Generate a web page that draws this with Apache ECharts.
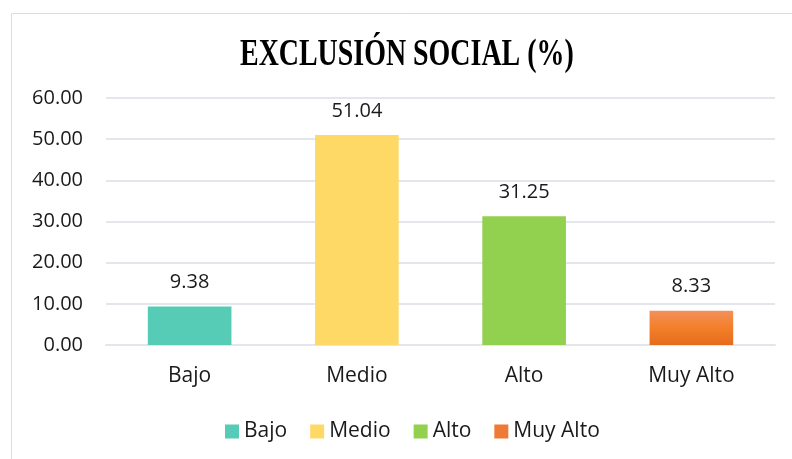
<!DOCTYPE html>
<html>
<head>
<meta charset="utf-8">
<script src="https://cdn.jsdelivr.net/npm/echarts@6/dist/echarts.min.js"></script>
<style>
  html, body { margin: 0; padding: 0; background: #fff; }
  #chart { width: 792px; height: 459px; }
</style>
</head>
<body>
<div id="chart"></div>
<script>
// datos
const titleText = 'EXCLUSIÓN SOCIAL (%)'
const categories = ['Bajo', 'Medio', 'Alto', 'Muy Alto']
const values = [9.38, 51.04, 31.25, 8.33]
const colors = [
  '#56CBB5',
  '#FFD966',
  '#92D050',
  new echarts.graphic.LinearGradient(0, 0, 0, 1, [
    { offset: 0, color: '#F3905A' },
    { offset: 0.5, color: '#F47F2A' },
    { offset: 1, color: '#E56B1C' }
  ])
]
const legendColors = ['#56CBB5', '#FFD966', '#92D050', '#EE7A33']

const chart = echarts.init(document.getElementById('chart'))

// una serie por categoría para que la leyenda muestre los cuatro colores
const series_data = categories.map((name, i) => ({
  name: name,
  type: 'bar',
  stack: 'total',
  barWidth: '50%',
  itemStyle: { color: colors[i] },
  label: {
    show: true,
    position: 'top',
    distance: 14,
    color: '#1a1a1a',
    fontFamily: 'Open Sans',
    fontSize: 20,
    formatter: p => Number(p.value).toFixed(2)
  },
  data: categories.map((c, j) => (j === i ? values[i] : '-'))
}))

const option = {
  animation: false,
  graphic: [
    {
      type: 'rect',
      shape: { x: 11.5, y: 13.5, width: 800, height: 500 },
      style: { fill: 'none', stroke: '#D9DEE4', lineWidth: 1 },
      silent: true
    },
    {
      // título: Times en negrita algo estrecho y alto
      type: 'text',
      x: 240,
      y: 55,
      scaleX: 0.755,
      silent: true,
      style: {
        text: titleText,
        fontFamily: 'Liberation Serif',
        fontWeight: 'bold',
        fontSize: 37,
        fill: '#000',
        align: 'left',
        verticalAlign: 'middle'
      }
    }
  ],
  legend: {
    data: categories.map((name, i) => ({ name: name, itemStyle: { color: legendColors[i] } })),
    top: 416,
    left: 220,
    itemWidth: 14,
    itemHeight: 14,
    itemGap: 23,
    icon: 'rect',
    textStyle: {
      fontFamily: 'Open Sans',
      fontSize: 21,
      color: '#1a1a1a'
    }
  },
  grid: {
    left: 106,
    right: 17,
    top: 98,
    bottom: 114,
    containLabel: false
  },
  xAxis: {
    type: 'category',
    data: categories,
    axisLine: { show: true, lineStyle: { color: '#E3E6EA', width: 2 } },
    axisTick: { show: false },
    axisLabel: {
      margin: 21,
      fontFamily: 'Open Sans',
      fontSize: 21,
      color: '#1a1a1a'
    }
  },
  yAxis: {
    type: 'value',
    min: 0,
    max: 60,
    interval: 10,
    axisLine: { show: false },
    axisTick: { show: false },
    splitLine: { lineStyle: { color: '#E3E6EA', width: 2 } },
    axisLabel: {
      margin: 23,
      fontFamily: 'Open Sans',
      fontSize: 20,
      color: '#1a1a1a',
      formatter: v => v.toFixed(2)
    }
  },
  series: series_data
}

chart.setOption(option)
</script>
</body>
</html>
